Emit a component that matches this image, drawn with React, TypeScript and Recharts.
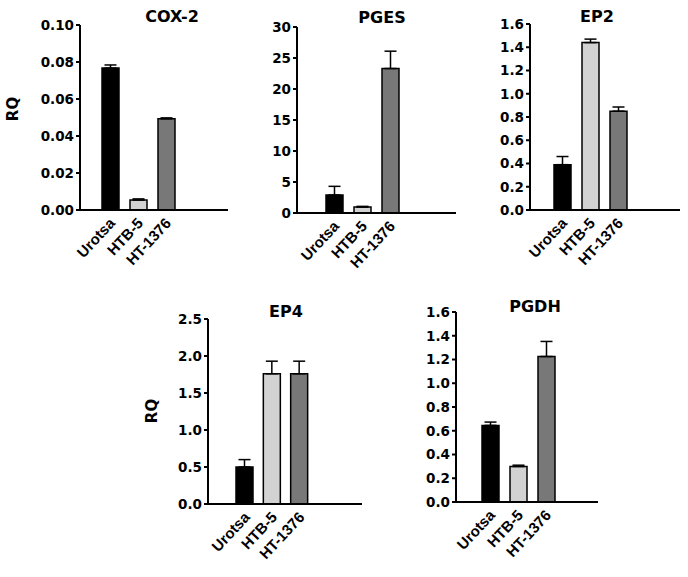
import React from "react";
import { Bar, BarChart, Cell, ErrorBar, XAxis, YAxis } from "recharts";

const categories = ["Urotsa", "HTB-5", "HT-1376"];
const barColors = ["#000000", "#d2d2d2", "#787878"];

const cox2Values = [0.0767, 0.0054, 0.0493];
const cox2Errors = [0.0017, 0.0006, 0.0005];
const cox2Ticks = [0, 0.02, 0.04, 0.06, 0.08, 0.1];

const pgesValues = [2.9, 0.95, 23.3];
const pgesErrors = [1.4, 0.12, 2.8];
const pgesTicks = [0, 5, 10, 15, 20, 25, 30];

const ep2Values = [0.39, 1.44, 0.85];
const ep2Errors = [0.07, 0.03, 0.036];
const ep2Ticks = [0, 0.2, 0.4, 0.6, 0.8, 1.0, 1.2, 1.4, 1.6];

const ep4Values = [0.5, 1.76, 1.76];
const ep4Errors = [0.1, 0.17, 0.17];
const ep4Ticks = [0, 0.5, 1.0, 1.5, 2.0, 2.5];

const pgdhValues = [0.645, 0.299, 1.225];
const pgdhErrors = [0.028, 0.011, 0.127];
const pgdhTicks = [0, 0.2, 0.4, 0.6, 0.8, 1.0, 1.2, 1.4, 1.6];

const FONT = "'DejaVu Sans', sans-serif";
const LABEL_FONT = "'Liberation Sans', Arial, sans-serif";
const Y_AXIS_W = 80;

type Panel = {
  title: string;
  values: number[];
  errors: number[];
  ticks: number[];
  decimals: number;
  // layout (page px)
  axisX: number;
  topY: number;
  zeroY: number;
  rightX: number;
  padL: number;
  padR: number;
  titleX: number;
  titleY: number;
  rq?: [number, number];
};

const panels: Panel[] = [
  { title: "COX-2", values: cox2Values, errors: cox2Errors, ticks: cox2Ticks, decimals: 2,
    axisX: 80, topY: 25, zeroY: 210, rightX: 228, padL: 16, padR: 48, titleX: 172, titleY: 17, rq: [13, 109] },
  { title: "PGES", values: pgesValues, errors: pgesErrors, ticks: pgesTicks, decimals: 0,
    axisX: 297, topY: 27, zeroY: 213, rightX: 456, padL: 23, padR: 52, titleX: 382, titleY: 18 },
  { title: "EP2", values: ep2Values, errors: ep2Errors, ticks: ep2Ticks, decimals: 1,
    axisX: 530, topY: 24, zeroY: 210, rightX: 680, padL: 18, padR: 48, titleX: 597, titleY: 17 },
  { title: "EP4", values: ep4Values, errors: ep4Errors, ticks: ep4Ticks, decimals: 1,
    axisX: 208, topY: 319, zeroY: 504, rightX: 362, padL: 23, padR: 49, titleX: 286, titleY: 312, rq: [152, 411] },
  { title: "PGDH", values: pgdhValues, errors: pgdhErrors, ticks: pgdhTicks, decimals: 1,
    axisX: 456, topY: 312, zeroY: 502, rightX: 598, padL: 20, padR: 38, titleX: 535, titleY: 307 },
];

function CategoryTick({ x, y, payload }: { x?: number; y?: number; payload?: { value: string } }) {
  if (x === undefined || y === undefined || !payload) return null;
  return (
    <text
      transform={`translate(${x + 6},${y + 6}) rotate(-47)`}
      textAnchor="end"
      fontSize={15}
      fontWeight="bold"
      fontFamily={LABEL_FONT}
      fill="#000"
    >
      {payload.value}
    </text>
  );
}

function PanelChart({ p }: { p: Panel }) {
  const data = categories.map((name, i) => ({
    name,
    value: p.values[i],
    err: [0, p.errors[i]],
  }));
  const width = Y_AXIS_W + (p.rightX - p.axisX) + 2;
  const height = p.zeroY - p.topY + 10 + 80;
  const left = p.axisX - Y_AXIS_W;
  const top = p.topY - 10;
  return (
    <div style={{ position: "absolute", left, top }}>
      <BarChart
        width={width}
        height={height}
        data={data}
        margin={{ top: 10, right: 2, bottom: 0, left: 0 }}
        barSize={17}
      >
        <XAxis
          dataKey="name"
          interval={0}
          height={80}
          padding={{ left: p.padL, right: p.padR }}
          axisLine={{ stroke: "#000", strokeWidth: 2 }}
          tickLine={false}
          tick={<CategoryTick />}
        />
        <YAxis
          width={Y_AXIS_W}
          domain={[0, p.ticks[p.ticks.length - 1]]}
          ticks={p.ticks}
          interval={0}
          allowDataOverflow
          tickFormatter={(v: number) => v.toFixed(p.decimals)}
          axisLine={{ stroke: "#000", strokeWidth: 2 }}
          tickLine={{ stroke: "#000", strokeWidth: 2 }}
          tickSize={4}
          tickMargin={2}
          tick={{ fill: "#000", fontSize: 13.5, fontWeight: "bold", fontFamily: FONT }}
        />
        <Bar dataKey="value" stroke="#000" strokeWidth={1.5} isAnimationActive={false}>
          {data.map((d, i) => (
            <Cell key={d.name} fill={barColors[i]} />
          ))}
          <ErrorBar dataKey="err" width={6} stroke="#000" strokeWidth={1.5} direction="y" />
        </Bar>
      </BarChart>
      <div
        style={{
          position: "absolute",
          left: p.titleX - left,
          top: p.titleY - top,
          transform: "translate(-50%, -50%)",
          fontFamily: FONT,
          fontWeight: "bold",
          fontSize: 16,
          whiteSpace: "nowrap",
          lineHeight: 1,
        }}
      >
        {p.title}
      </div>
      {p.rq && (
        <div
          style={{
            position: "absolute",
            left: p.rq[0] - left,
            top: p.rq[1] - top,
            transform: "translate(-50%, -50%) rotate(-90deg)",
            fontFamily: FONT,
            fontWeight: "bold",
            fontSize: 15,
            whiteSpace: "nowrap",
            lineHeight: 1,
          }}
        >
          RQ
        </div>
      )}
    </div>
  );
}

export default function App() {
  return (
    <div style={{ position: "absolute", left: 0, top: 0, width: 688, height: 577, background: "#fff" }}>
      {panels.map((p) => (
        <PanelChart key={p.title} p={p} />
      ))}
    </div>
  );
}
